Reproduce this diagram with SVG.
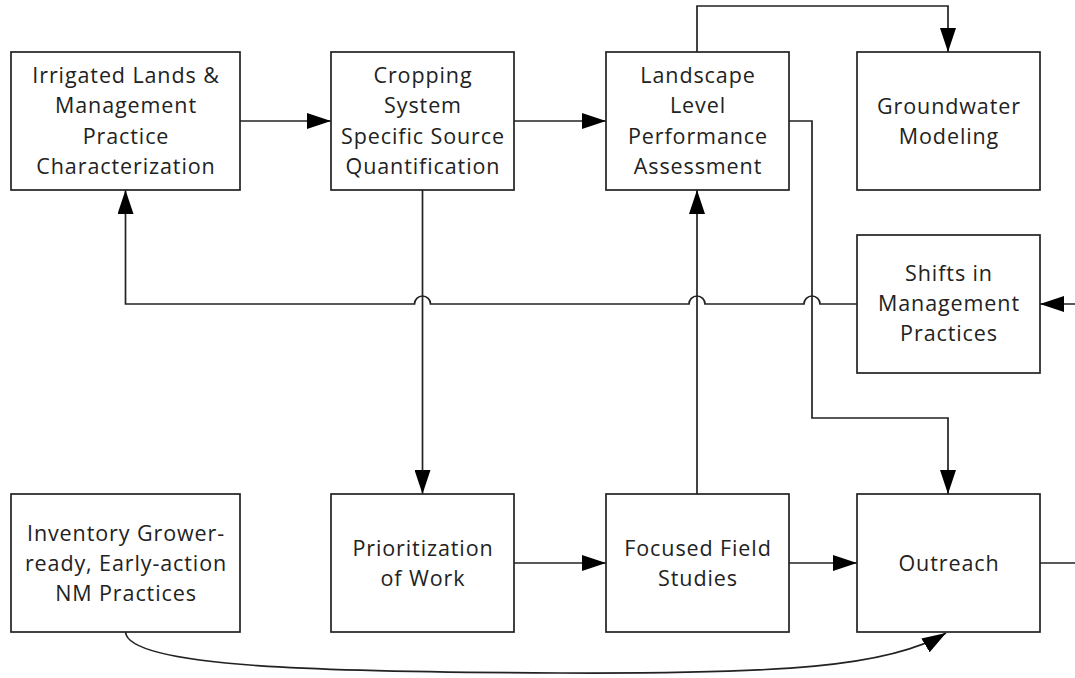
<svg xmlns="http://www.w3.org/2000/svg" width="1075" height="678" viewBox="0 0 1075 678">
  <style>
    .box { fill: #ffffff; stroke: #222222; stroke-width: 1.7; }
    .lbl { font-family: "Open Sans", Lato, "Liberation Sans", sans-serif; font-size: 21.5px; letter-spacing: 0.9px; fill: #222222; text-anchor: middle; }
    .wire { fill: none; stroke: #222222; stroke-width: 1.7; }
  </style>
  <defs>
    <marker id="arrow" markerUnits="userSpaceOnUse" markerWidth="24" markerHeight="16" refX="24" refY="8" orient="auto">
      <path d="M0,0 L24,8 L0,16 Z" fill="#000000"/>
    </marker>
  </defs>

  <rect width="1075" height="678" fill="#ffffff"/>

  <!-- connectors -->
  <g id="connectors">
    <path class="wire" d="M240,121 H331" marker-end="url(#arrow)"/>
    <path class="wire" d="M514,121 H606" marker-end="url(#arrow)"/>
    <path class="wire" d="M697,52 V6 H948 V52" marker-end="url(#arrow)"/>
    <path class="wire" d="M789,121 H812 V418 H948 V494" marker-end="url(#arrow)"/>
    <path class="wire" d="M422.5,190 V494" marker-end="url(#arrow)"/>
    <path class="wire" d="M697,494 V190" marker-end="url(#arrow)"/>
    <!-- feedback line with line-jumps over the vertical wires -->
    <path class="wire" d="M857,304 H820 A8,8 0 0 0 804,304 H705 A8,8 0 0 0 689,304 H430.5 A8,8 0 0 0 414.5,304 H125.5 V190" marker-end="url(#arrow)"/>
    <path class="wire" d="M1075,304 H1040" marker-end="url(#arrow)"/>
    <path class="wire" d="M514,563 H606" marker-end="url(#arrow)"/>
    <path class="wire" d="M789,563 H857" marker-end="url(#arrow)"/>
    <path class="wire" d="M1040,563 H1075"/>
    <path class="wire" d="M125.5,632 C128,668 330,672 560,673 C780,674 890,667 946,633" marker-end="url(#arrow)"/>
  </g>

  <!-- top row -->
  <g id="irrigated-lands">
    <rect class="box" x="11" y="52" width="229" height="138"/>
    <text class="lbl" x="126" y="83">Irrigated Lands &amp;</text>
    <text class="lbl" x="126" y="113">Management</text>
    <text class="lbl" x="126" y="144">Practice</text>
    <text class="lbl" x="126" y="174">Characterization</text>
  </g>
  <g id="cropping-system">
    <rect class="box" x="331" y="52" width="183" height="138"/>
    <text class="lbl" x="423" y="83">Cropping</text>
    <text class="lbl" x="423" y="113">System</text>
    <text class="lbl" x="423" y="144">Specific Source</text>
    <text class="lbl" x="423" y="174">Quantification</text>
  </g>
  <g id="landscape-level">
    <rect class="box" x="606" y="52" width="183" height="138"/>
    <text class="lbl" x="698" y="83">Landscape</text>
    <text class="lbl" x="698" y="113">Level</text>
    <text class="lbl" x="698" y="144">Performance</text>
    <text class="lbl" x="698" y="174">Assessment</text>
  </g>
  <g id="groundwater-modeling">
    <rect class="box" x="857" y="52" width="183" height="138"/>
    <text class="lbl" x="949" y="114">Groundwater</text>
    <text class="lbl" x="949" y="144">Modeling</text>
  </g>

  <!-- middle -->
  <g id="shifts-in-management">
    <rect class="box" x="857" y="235" width="183" height="138"/>
    <text class="lbl" x="949" y="281">Shifts in</text>
    <text class="lbl" x="949" y="311">Management</text>
    <text class="lbl" x="949" y="341">Practices</text>
  </g>

  <!-- bottom row -->
  <g id="inventory">
    <rect class="box" x="11" y="494" width="229" height="138"/>
    <text class="lbl" x="126" y="541">Inventory Grower-</text>
    <text class="lbl" x="126" y="571">ready, Early-action</text>
    <text class="lbl" x="126" y="601">NM Practices</text>
  </g>
  <g id="prioritization">
    <rect class="box" x="331" y="494" width="183" height="138"/>
    <text class="lbl" x="423" y="556">Prioritization</text>
    <text class="lbl" x="423" y="586">of Work</text>
  </g>
  <g id="focused-field-studies">
    <rect class="box" x="606" y="494" width="183" height="138"/>
    <text class="lbl" x="698" y="556">Focused Field</text>
    <text class="lbl" x="698" y="586">Studies</text>
  </g>
  <g id="outreach">
    <rect class="box" x="857" y="494" width="183" height="138"/>
    <text class="lbl" x="949" y="571">Outreach</text>
  </g>
</svg>
